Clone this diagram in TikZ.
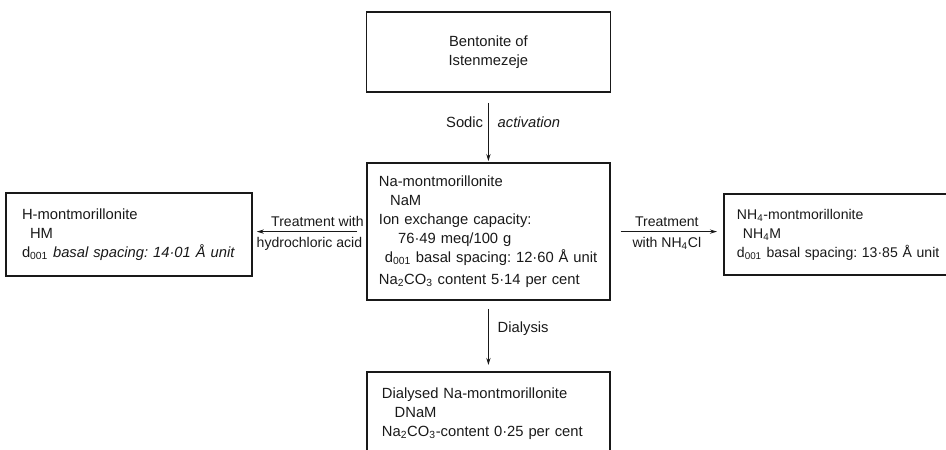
\documentclass[tikz,border=0pt]{standalone}
\usepackage{fontspec}
\setmainfont{Liberation Sans}
\usepackage{tikz}
\usetikzlibrary{arrows.meta, positioning}
\definecolor{inkblack}{RGB}{25,25,25}
\frenchspacing

\begin{document}
\begin{tikzpicture}[
  every node/.style={font=\fontsize{10.5}{13.5}\selectfont, text=inkblack},
  arr/.style={-{Stealth[length=5pt, width=3pt]}, line width=0.9pt, color=inkblack},
  box/.style={draw=inkblack, line width=1.1pt, align=left, inner ysep=0pt},
  lbl/.style={font=\fontsize{10}{12}\selectfont}
]
\useasboundingbox (0,0) rectangle (23.65,-11.225);

% Starting material
\node[box, align=center, minimum width=6.1cm, minimum height=2.0cm] (bento) at (12.21, -1.3)
  {Bentonite of\\Istenmezeje};

% Sodic form
\node[box, text width=5.475cm, inner xsep=0.3cm, minimum height=3.425cm] (nam) at (12.21, -5.79)
  {Na-montmorillonite\\
   \hspace*{0.28cm}NaM\\
   Ion exchange capacity:\\
   \hspace*{0.48cm}76·49 meq/100 g\\
   \hspace*{0.15cm}\mbox{d\textsubscript{001} basal spacing: 12·60 Å unit}\\[2pt]
   \mbox{Na\textsubscript{2}CO\textsubscript{3} content 5·14 per cent}};

% Left: acid treatment
\node[box, text width=5.35cm, inner xsep=0.4cm, minimum height=2.075cm] (hm) at (3.225, -5.86)
  {H-montmorillonite\\
   \hspace*{0.2cm}HM\\
   \mbox{d\textsubscript{001} \textit{basal spacing: 14·01 Å unit}}};

% Right: ammonium treatment
\node[box, text width=5.6cm, inner xsep=0.33cm, minimum height=2.025cm, anchor=west,
      font=\fontsize{10}{13.5}\selectfont] (nhm) at (18.075, -5.86)
  {NH\textsubscript{4}-montmorillonite\\
   \hspace*{0.15cm}NH\textsubscript{4}M\\
   \mbox{d\textsubscript{001} basal spacing: 13·85 Å unit}};

% Bottom: dialysed form
\node[box, text width=5.325cm, inner xsep=0.375cm, inner ysep=0.4cm, anchor=north] (dnam) at (12.21, -9.275)
  {Dialysed Na-montmorillonite\\
   \hspace*{0.32cm}DNaM\\
   \mbox{Na\textsubscript{2}CO\textsubscript{3}-content 0·25 per cent}};

% Arrows
\draw[arr, shorten <=0.25cm, shorten >=0.03cm] (bento.south) --
  node[left, pos=0.42] {Sodic} node[right, pos=0.42, xshift=0.1cm] {\itshape activation} (nam.north);
\draw[arr, shorten <=0.2cm, shorten >=0.15cm] (nam.south) --
  node[right, pos=0.4, xshift=0.1cm] {Dialysis} (dnam.north);
\draw[arr, shorten <=0.22cm, shorten >=0.1cm] (nam.west) --
  node[lbl, above, xshift=0.2cm] {Treatment with} node[lbl, below] {hydrochloric acid} (nam.west -| hm.east);
\draw[arr, shorten <=0.25cm, shorten >=0.15cm] (nam.east) --
  node[lbl, above] {Treatment} node[lbl, below] {with NH\textsubscript{4}Cl} (nam.east -| nhm.west);

\end{tikzpicture}
\end{document}
